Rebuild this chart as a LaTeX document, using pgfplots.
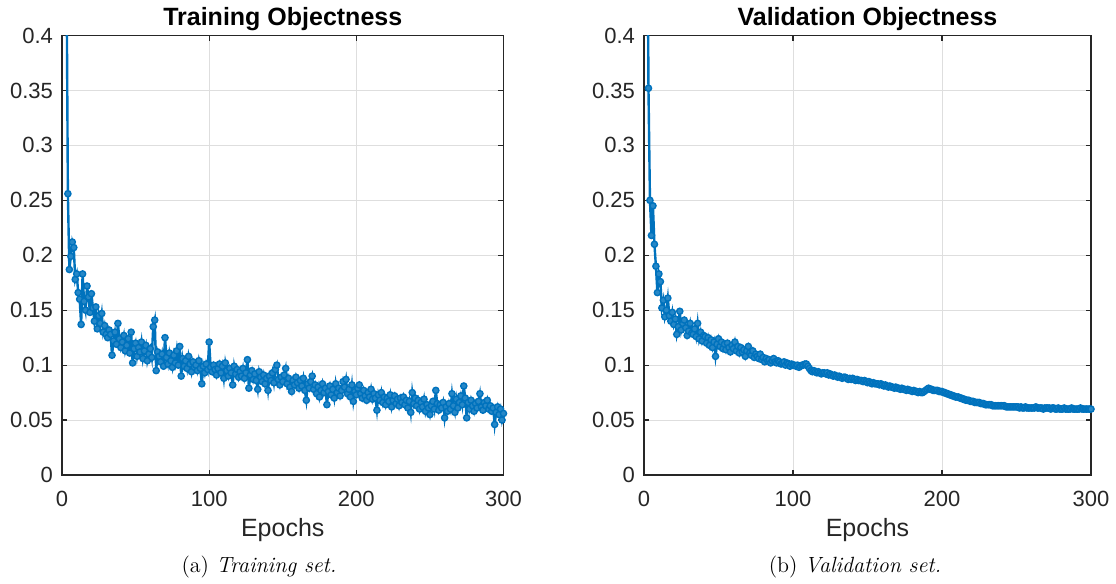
\documentclass[border=0pt]{standalone}
\usepackage{pgfplots}
\pgfplotsset{compat=1.18}
\usepackage{pgfplotstable}
\usepackage{fontspec}
\newfontfamily\arial{Liberation Sans}
\definecolor{mblue}{RGB}{0,114,189}
\definecolor{maxis}{RGB}{38,38,38}
\definecolor{mgrid}{RGB}{222,222,222}

\pgfplotstableread[row sep=\\]{
y\\
1.40\\ 0.80\\ 0.48\\ 0.256\\ 0.187\\ 0.199\\ 0.212\\ 0.207\\ 0.178\\ 0.183\\
0.166\\ 0.160\\ 0.137\\ 0.183\\ 0.158\\ 0.150\\ 0.172\\ 0.162\\ 0.148\\ 0.165\\
0.152\\ 0.140\\ 0.153\\ 0.133\\ 0.145\\ 0.138\\ 0.147\\ 0.130\\ 0.136\\ 0.128\\
0.125\\ 0.132\\ 0.128\\ 0.109\\ 0.122\\ 0.130\\ 0.119\\ 0.138\\ 0.124\\ 0.116\\
0.121\\ 0.127\\ 0.113\\ 0.118\\ 0.124\\ 0.111\\ 0.130\\ 0.102\\ 0.115\\ 0.120\\
0.108\\ 0.116\\ 0.112\\ 0.121\\ 0.106\\ 0.113\\ 0.118\\ 0.104\\ 0.110\\ 0.115\\
0.107\\ 0.135\\ 0.141\\ 0.095\\ 0.112\\ 0.108\\ 0.103\\ 0.110\\ 0.099\\ 0.125\\
0.107\\ 0.101\\ 0.111\\ 0.104\\ 0.098\\ 0.109\\ 0.102\\ 0.113\\ 0.100\\ 0.117\\
0.090\\ 0.106\\ 0.099\\ 0.104\\ 0.097\\ 0.108\\ 0.101\\ 0.094\\ 0.103\\ 0.098\\
0.100\\ 0.095\\ 0.104\\ 0.097\\ 0.083\\ 0.099\\ 0.093\\ 0.101\\ 0.096\\ 0.121\\
0.098\\ 0.094\\ 0.100\\ 0.096\\ 0.091\\ 0.097\\ 0.101\\ 0.093\\ 0.099\\ 0.088\\
0.102\\ 0.095\\ 0.090\\ 0.097\\ 0.093\\ 0.082\\ 0.099\\ 0.092\\ 0.096\\ 0.089\\
0.094\\ 0.090\\ 0.097\\ 0.088\\ 0.093\\ 0.105\\ 0.079\\ 0.091\\ 0.095\\ 0.087\\
0.092\\ 0.086\\ 0.078\\ 0.094\\ 0.089\\ 0.085\\ 0.091\\ 0.083\\ 0.088\\ 0.077\\
0.090\\ 0.086\\ 0.093\\ 0.084\\ 0.096\\ 0.100\\ 0.087\\ 0.082\\ 0.089\\ 0.085\\
0.091\\ 0.097\\ 0.083\\ 0.088\\ 0.080\\ 0.076\\ 0.086\\ 0.082\\ 0.089\\ 0.084\\
0.079\\ 0.086\\ 0.081\\ 0.088\\ 0.077\\ 0.068\\ 0.083\\ 0.079\\ 0.085\\ 0.090\\
0.078\\ 0.082\\ 0.074\\ 0.080\\ 0.071\\ 0.077\\ 0.083\\ 0.075\\ 0.079\\ 0.064\\
0.076\\ 0.081\\ 0.073\\ 0.078\\ 0.070\\ 0.083\\ 0.075\\ 0.079\\ 0.072\\ 0.077\\
0.085\\ 0.080\\ 0.087\\ 0.074\\ 0.078\\ 0.071\\ 0.082\\ 0.067\\ 0.076\\ 0.073\\
0.079\\ 0.082\\ 0.074\\ 0.070\\ 0.077\\ 0.072\\ 0.068\\ 0.075\\ 0.071\\ 0.078\\
0.069\\ 0.074\\ 0.070\\ 0.059\\ 0.073\\ 0.068\\ 0.075\\ 0.066\\ 0.071\\ 0.064\\
0.070\\ 0.067\\ 0.073\\ 0.062\\ 0.068\\ 0.072\\ 0.065\\ 0.069\\ 0.063\\ 0.070\\
0.066\\ 0.071\\ 0.064\\ 0.068\\ 0.061\\ 0.067\\ 0.057\\ 0.075\\ 0.065\\ 0.070\\
0.063\\ 0.068\\ 0.060\\ 0.066\\ 0.062\\ 0.069\\ 0.058\\ 0.064\\ 0.061\\ 0.055\\
0.063\\ 0.067\\ 0.060\\ 0.077\\ 0.065\\ 0.059\\ 0.064\\ 0.061\\ 0.066\\ 0.052\\
0.062\\ 0.058\\ 0.065\\ 0.060\\ 0.074\\ 0.063\\ 0.057\\ 0.069\\ 0.061\\ 0.066\\
0.072\\ 0.064\\ 0.081\\ 0.070\\ 0.052\\ 0.066\\ 0.060\\ 0.068\\ 0.063\\ 0.058\\
0.065\\ 0.061\\ 0.067\\ 0.074\\ 0.062\\ 0.059\\ 0.066\\ 0.063\\ 0.068\\ 0.060\\
0.063\\ 0.058\\ 0.061\\ 0.046\\ 0.057\\ 0.062\\ 0.055\\ 0.060\\ 0.050\\ 0.056\\
}\train

\pgfplotstableread[row sep=\\]{
y\\
1.00\\ 0.60\\ 0.352\\ 0.250\\ 0.218\\ 0.245\\ 0.210\\ 0.190\\ 0.166\\ 0.183\\
0.176\\ 0.152\\ 0.159\\ 0.144\\ 0.150\\ 0.161\\ 0.145\\ 0.140\\ 0.148\\ 0.137\\
0.142\\ 0.128\\ 0.135\\ 0.149\\ 0.132\\ 0.138\\ 0.141\\ 0.134\\ 0.127\\ 0.131\\
0.138\\ 0.129\\ 0.128\\ 0.133\\ 0.126\\ 0.138\\ 0.124\\ 0.130\\ 0.122\\ 0.127\\
0.126\\ 0.120\\ 0.125\\ 0.118\\ 0.123\\ 0.116\\ 0.121\\ 0.108\\ 0.119\\ 0.124\\
0.117\\ 0.121\\ 0.115\\ 0.119\\ 0.114\\ 0.120\\ 0.116\\ 0.112\\ 0.118\\ 0.115\\
0.121\\ 0.113\\ 0.117\\ 0.111\\ 0.116\\ 0.112\\ 0.114\\ 0.108\\ 0.113\\ 0.117\\
0.111\\ 0.109\\ 0.113\\ 0.107\\ 0.110\\ 0.108\\ 0.106\\ 0.110\\ 0.105\\ 0.107\\
0.103\\ 0.106\\ 0.104\\ 0.105\\ 0.102\\ 0.104\\ 0.106\\ 0.103\\ 0.102\\ 0.104\\
0.103\\ 0.101\\ 0.102\\ 0.103\\ 0.100\\ 0.102\\ 0.101\\ 0.099\\ 0.101\\ 0.100\\
0.100\\ 0.099\\ 0.100\\ 0.098\\ 0.099\\ 0.100\\ 0.100\\ 0.101\\ 0.101\\ 0.099\\
0.097\\ 0.095\\ 0.094\\ 0.095\\ 0.094\\ 0.093\\ 0.094\\ 0.093\\ 0.092\\ 0.093\\
0.093\\ 0.092\\ 0.093\\ 0.091\\ 0.092\\ 0.091\\ 0.090\\ 0.091\\ 0.090\\ 0.089\\
0.090\\ 0.089\\ 0.088\\ 0.089\\ 0.089\\ 0.088\\ 0.087\\ 0.088\\ 0.087\\ 0.088\\
0.087\\ 0.086\\ 0.087\\ 0.086\\ 0.086\\ 0.086\\ 0.085\\ 0.086\\ 0.085\\ 0.084\\
0.085\\ 0.084\\ 0.083\\ 0.084\\ 0.083\\ 0.083\\ 0.083\\ 0.082\\ 0.083\\ 0.082\\
0.081\\ 0.082\\ 0.081\\ 0.080\\ 0.081\\ 0.080\\ 0.080\\ 0.079\\ 0.080\\ 0.079\\
0.079\\ 0.078\\ 0.079\\ 0.078\\ 0.078\\ 0.077\\ 0.078\\ 0.077\\ 0.077\\ 0.076\\
0.077\\ 0.076\\ 0.076\\ 0.075\\ 0.076\\ 0.075\\ 0.075\\ 0.076\\ 0.077\\ 0.078\\
0.079\\ 0.078\\ 0.078\\ 0.077\\ 0.077\\ 0.077\\ 0.077\\ 0.076\\ 0.076\\ 0.076\\
0.075\\ 0.075\\ 0.074\\ 0.074\\ 0.073\\ 0.073\\ 0.072\\ 0.072\\ 0.071\\ 0.071\\
0.071\\ 0.070\\ 0.070\\ 0.069\\ 0.069\\ 0.068\\ 0.068\\ 0.068\\ 0.067\\ 0.067\\
0.067\\ 0.066\\ 0.066\\ 0.066\\ 0.066\\ 0.065\\ 0.065\\ 0.065\\ 0.064\\ 0.064\\
0.064\\ 0.064\\ 0.064\\ 0.063\\ 0.063\\ 0.063\\ 0.063\\ 0.063\\ 0.063\\ 0.063\\
0.063\\ 0.063\\ 0.062\\ 0.062\\ 0.062\\ 0.062\\ 0.062\\ 0.062\\ 0.062\\ 0.062\\
0.062\\ 0.061\\ 0.062\\ 0.061\\ 0.061\\ 0.062\\ 0.061\\ 0.061\\ 0.061\\ 0.061\\
0.061\\ 0.061\\ 0.062\\ 0.061\\ 0.061\\ 0.061\\ 0.061\\ 0.060\\ 0.061\\ 0.061\\
0.061\\ 0.061\\ 0.060\\ 0.061\\ 0.061\\ 0.060\\ 0.060\\ 0.061\\ 0.060\\ 0.060\\
0.060\\ 0.061\\ 0.060\\ 0.060\\ 0.060\\ 0.060\\ 0.061\\ 0.060\\ 0.060\\ 0.060\\
0.060\\ 0.060\\ 0.061\\ 0.060\\ 0.060\\ 0.060\\ 0.060\\ 0.060\\ 0.060\\ 0.060\\
}\valid

\pgfplotsset{mstyle/.style={
  scale only axis, height=219.75pt,
  xmin=0, xmax=300, ymin=0, ymax=0.4,
  xtick={0,100,200,300}, xticklabels={0,100,200,300},
  ytick={0,0.05,0.1,0.15,0.2,0.25,0.3,0.35,0.4},
  yticklabels={0,0.05,0.1,0.15,0.2,0.25,0.3,0.35,0.4},
  tick align=inside, xtick pos=both, ytick pos=both,
  xticklabel pos=lower, yticklabel pos=left,
  major tick length=2.5pt,
  axis line style={maxis, line width=0.6pt},
  every tick/.style={maxis, line width=0.6pt},
  grid=major, major grid style={mgrid, line width=0.5pt},
  /pgf/number format/assume math mode=true,
  tick label style={font=\arial\fontsize{11}{13}\selectfont, text=maxis},
  xticklabel style={anchor=base, yshift=-16pt},
  yticklabel style={xshift=-1pt},
  label style={font=\arial\fontsize{12.5}{15}\selectfont, text=maxis},
  xlabel style={at={(axis description cs:0.5,0)}, anchor=base, yshift=-31pt},
  title style={font=\arial\bfseries\fontsize{12.5}{15}\selectfont, text=black, at={(axis description cs:0.5,1)}, anchor=base, yshift=-1pt},
  xlabel={Epochs},
  clip=true,
}}
\pgfplotsset{mline/.style={mblue, line width=1.2pt, mark=*, mark size=1.55pt, mark options={fill=mblue!85!white, draw=mblue, line width=0.7pt}}}

\begin{document}
\begin{tikzpicture}
\begin{axis}[mstyle, width=220.75pt, at={(31pt,54.5pt)}, anchor=south west, title={Training Objectness}]
\addplot[mline] table[x expr=\coordindex+1, y=y] {\train};
\end{axis}
\begin{axis}[mstyle, width=223.5pt, at={(322pt,54.5pt)}, anchor=south west, title={Validation Objectness}]
\addplot[mline] table[x expr=\coordindex+1, y=y] {\valid};
\end{axis}
\node[anchor=base, font=\fontsize{11}{13}\selectfont] at (129.5pt,5.5pt) {(a) \textit{Training set.}};
\node[anchor=base, font=\fontsize{11}{13}\selectfont] at (427.5pt,5.5pt) {(b) \textit{Validation set.}};
\pgfresetboundingbox
\path (0,0) rectangle (558pt,292pt);
\end{tikzpicture}
\end{document}
